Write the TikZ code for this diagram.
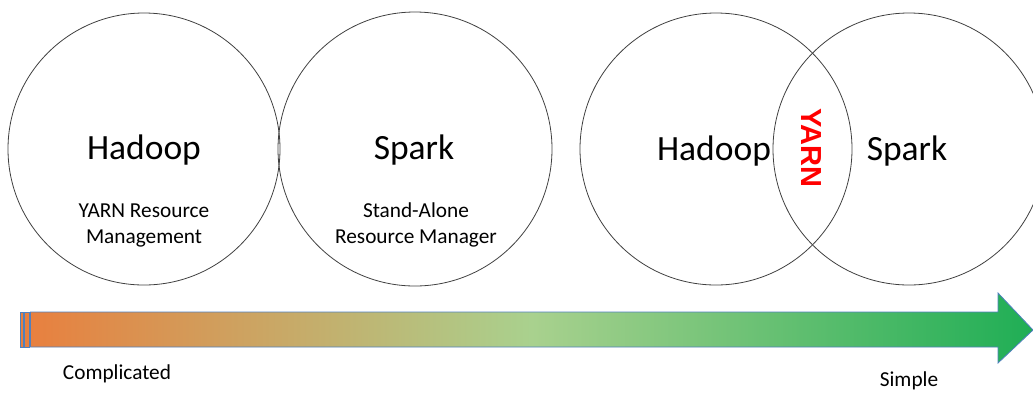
\documentclass[tikz,border=0pt]{standalone}
\usepackage{fontspec}
\setmainfont{Carlito}
\newfontfamily\yarnfont{Liberation Sans}
\definecolor{arrowline}{HTML}{5080BE}
\definecolor{warm}{HTML}{E8803F}
\definecolor{pale}{HTML}{A9D18E}
\definecolor{cool}{HTML}{1FAE55}
\tikzset{
  ring/.style={draw=black!75,line width=0.8pt},
  bigname/.style={anchor=base,font=\fontsize{35.5}{40}\selectfont},
  subname/.style={anchor=base,font=\fontsize{21.3}{26}\selectfont},
}
\begin{document}
\begin{tikzpicture}[x=1pt,y=-1pt]
    \useasboundingbox (0,0) rectangle (1033,392);
    \clip (0,0) rectangle (1033,392);

    % circles
    \draw[ring] (144,149) circle[radius=136pt];
    \draw[ring] (415,149) circle[radius=137pt];
    \draw[ring] (716,149) circle[radius=136pt];
    \draw[ring] (909,149) circle[radius=136pt];

    % left pair
    \node[bigname] (hadoopA) at (144,159) {Hadoop};
    \node[subname,align=center] (yarnRM) at (144,243) {YARN Resource\\Management};
    \node[bigname] (sparkA) at (414,159) {Spark};
    \node[subname,align=center] (standRM) at (416,243) {Stand-Alone\\Resource Manager};

    % right pair
    \node[bigname] (hadoopB) at (714,160) {Hadoop};
    \node[bigname] (sparkB) at (907,160) {Spark};
    \node[font=\yarnfont\bfseries\fontsize{29}{32}\selectfont,text=red,rotate=-90] (yarnMid) at (811,148) {YARN};

    % arrow
    \draw[arrowline,line width=0.8pt,fill=warm] (20,312) rectangle (23,347);
    \draw[arrowline,line width=0.8pt,fill=warm] (24.5,312) rectangle (29,347);
    \draw[arrowline,line width=0.8pt,left color=warm,right color=cool,middle color=pale]
    (30.5,312) -- (998,312) -- (998,293) -- (1033,330) -- (998,363) -- (998,347) -- (30.5,347) -- cycle;

    \node[subname] (hard) at (117,379) {Complicated};
    \node[subname] (easy) at (909,386) {Simple};
  \end{tikzpicture}
\end{document}
